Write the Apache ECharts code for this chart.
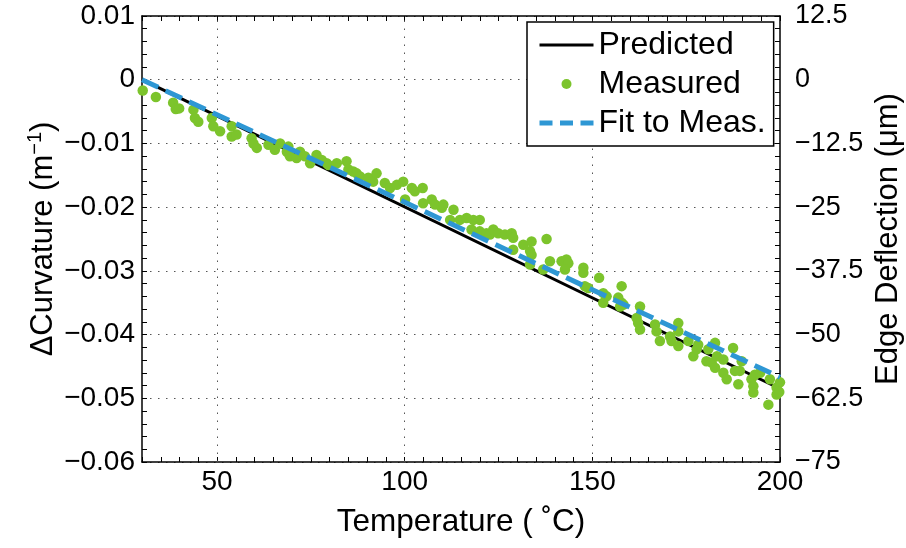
<!DOCTYPE html>
<html><head><meta charset="utf-8">
<script src="https://cdn.jsdelivr.net/npm/echarts@6/dist/echarts.min.js"></script>
<style>html,body{margin:0;padding:0;background:#fff}#c{width:906px;height:548px}</style>
</head><body><div id="c"></div>
<script>
// Temperature (°C) vs ΔCurvature (1/m)
var predicted = [[30, 0], [200, -0.0485]];
var fitToMeas = [[30, 0], [200, -0.0467]];
var measured = [
[30.2,-0.0017],[33.7,-0.0027],[38.3,-0.0036],[39.0,-0.0046],[39.9,-0.0045],[43.7,-0.0047],
[44.1,-0.0060],[45.0,-0.0066],[48.6,-0.0060],[49.0,-0.0073],[50.8,-0.0081],[53.9,-0.0073],
[53.9,-0.0089],[55.2,-0.0086],[59.2,-0.0092],[59.7,-0.0100],[60.6,-0.0107],[63.7,-0.0102],
[65.4,-0.0110],[66.8,-0.0100],[68.6,-0.0113],[69.0,-0.0105],[69.4,-0.0120],[71.2,-0.0123],
[72.1,-0.0113],[73.4,-0.0120],[74.8,-0.0131],[76.5,-0.0118],[77.9,-0.0126],[79.2,-0.0131],
[79.7,-0.0134],[81.9,-0.0131],[84.5,-0.0128],[85.0,-0.0141],[86.3,-0.0144],[87.2,-0.0147],
[88.1,-0.0152],[90.3,-0.0154],[91.6,-0.0160],[92.5,-0.0147],[94.7,-0.0162],[96.1,-0.0170],
[97.9,-0.0165],[99.6,-0.0160],[100.1,-0.0188],[101.9,-0.0170],[102.7,-0.0175],[104.8,-0.0170],
[104.9,-0.0194],[107.2,-0.0188],[108.1,-0.0196],[109.9,-0.0201],[110.3,-0.0196],[112.1,-0.0220],
[113.0,-0.0204],[114.7,-0.0220],[116.5,-0.0217],[117.8,-0.0235],[118.3,-0.0220],[120.0,-0.0220],
[120.0,-0.0238],[121.8,-0.0241],[122.7,-0.0243],[123.6,-0.0235],[124.9,-0.0241],[126.7,-0.0243],
[128.5,-0.0241],[128.9,-0.0248],[128.9,-0.0267],[131.6,-0.0259],[133.8,-0.0254],[133.4,-0.0269],
[133.8,-0.0275],[133.4,-0.0290],[136.9,-0.0298],[137.8,-0.0250],[138.7,-0.0285],[141.8,-0.0285],
[143.1,-0.0282],[143.6,-0.0288],[142.7,-0.0298],[147.6,-0.0295],[147.6,-0.0303],[148.0,-0.0324],
[148.9,-0.0327],[151.8,-0.0311],[152.9,-0.0335],[153.8,-0.0340],[152.9,-0.0350],[156.9,-0.0342],
[157.8,-0.0324],[157.8,-0.0350],[157.4,-0.0356],[158.3,-0.0353],[161.8,-0.0374],[162.2,-0.0382],
[162.7,-0.0392],[162.7,-0.0356],[166.7,-0.0384],[167.1,-0.0395],[168.0,-0.0410],[170.7,-0.0403],
[171.1,-0.0410],[172.9,-0.0382],[172.9,-0.0395],[172.9,-0.0418],[175.6,-0.0410],[176.9,-0.0434],
[177.8,-0.0423],[178.2,-0.0416],[180.4,-0.0442],[180.9,-0.0423],[181.8,-0.0444],[182.7,-0.0413],
[182.7,-0.0452],[183.2,-0.0434],[184.9,-0.0439],[184.9,-0.0460],[185.8,-0.0470],[187.5,-0.0421],
[188.0,-0.0457],[188.9,-0.0478],[189.3,-0.0457],[189.8,-0.0442],[192.4,-0.0470],[192.9,-0.0481],
[192.9,-0.0491],[193.3,-0.0463],[194.7,-0.0460],[196.9,-0.0510],[197.3,-0.0470],[199.1,-0.0483],
[199.1,-0.0494],[200.0,-0.0475],[199.8,-0.0490]
];
var xMajorGrid = [50, 100, 150];
var xTickLabels = [50, 100, 150, 200];

var FONT = '"Liberation Sans", Arial, sans-serif';
var minus = function (s) { return String(s).replace('-', '\u2212'); };
var chart = echarts.init(document.getElementById('c'), null, {renderer: 'canvas'});
var tickStyle = {show: true, inside: true, length: 5, lineStyle: {color: '#000', width: 1}};
var minorStyle = {show: true, splitNumber: 5, length: 5, lineStyle: {color: '#000', width: 1}};
chart.setOption({
  backgroundColor: '#fff',
  animation: false,
  textStyle: {fontFamily: FONT},
  grid: {left: 142, right: 126, top: 16, bottom: 86, containLabel: false, outerBoundsMode: 'none'},
  legend: {
    left: 527, top: 22, orient: 'vertical',
    backgroundColor: '#fff', borderColor: '#000', borderWidth: 1.5,
    padding: [7, 8, 7, 10], itemGap: 7, itemWidth: 54, itemHeight: 10,
    textStyle: {fontFamily: FONT, fontSize: 32, color: '#000', lineHeight: 32},
    data: [
      {name: 'Predicted', itemStyle: {opacity: 0}, lineStyle: {color: '#000', width: 3, type: 'solid'}},
      {name: 'Measured', icon: 'circle'},
      {name: 'Fit to Meas.', itemStyle: {opacity: 0}, lineStyle: {color: '#2e97d4', width: 5, type: [13, 7.5]}}
    ]
  },
  xAxis: [{
    type: 'value', min: 30, max: 200, interval: 5, position: 'bottom',
    name: 'Temperature ( \u02DAC)', nameLocation: 'middle', nameGap: 44, nameMoveOverlap: false,
    nameTextStyle: {fontFamily: FONT, fontSize: 31.5, color: '#000'},
    axisLine: {show: true, onZero: false, lineStyle: {color: '#000', width: 1.5}},
    axisTick: tickStyle,
    axisLabel: {color: '#000', fontFamily: FONT, fontSize: 28, margin: 6,
      formatter: function (v) { return xTickLabels.indexOf(v) >= 0 ? String(v) : ''; }},
    splitLine: {show: false}
  }, {
    type: 'value', min: 30, max: 200, interval: 5, position: 'top',
    axisLine: {show: true, onZero: false, lineStyle: {color: '#000', width: 1.5}},
    axisTick: tickStyle, axisLabel: {show: false}, splitLine: {show: false}
  }],
  yAxis: [{
    type: 'value', min: -0.06, max: 0.01, interval: 0.01, position: 'left',
    name: '\u0394Curvature (m{sup|\u22121})', nameLocation: 'middle', nameGap: 80, nameRotate: 90,
    nameMoveOverlap: false,
    nameTextStyle: {fontFamily: FONT, fontSize: 31, color: '#000',
      rich: {sup: {fontFamily: FONT, fontSize: 20, color: '#000', padding: [0, 0, 17, 0]}}},
    axisLine: {show: true, onZero: false, lineStyle: {color: '#000', width: 1.5}},
    axisTick: tickStyle, minorTick: minorStyle,
    axisLabel: {color: '#000', fontFamily: FONT, fontSize: 28, margin: 7,
      formatter: function (v) { return v === 0 ? '0' : minus(v.toFixed(2)); }},
    splitLine: {show: true, lineStyle: {color: '#555', width: 1, type: [1.5, 6.5]}}
  }, {
    type: 'value', min: -75, max: 12.5, interval: 12.5, position: 'right',
    name: 'Edge Deflection (\u03BCm)', nameLocation: 'middle', nameGap: 93, nameRotate: 90,
    nameMoveOverlap: false,
    nameTextStyle: {fontFamily: FONT, fontSize: 31, color: '#000'},
    axisLine: {show: true, onZero: false, lineStyle: {color: '#000', width: 1.5}},
    axisTick: tickStyle, minorTick: minorStyle,
    axisLabel: {color: '#000', fontFamily: FONT, fontSize: 27, margin: 15,
      formatter: function (v) { return minus(v); }},
    splitLine: {show: false}
  }],
  series: [{
    name: 'Predicted', type: 'line', data: predicted, xAxisIndex: 0, yAxisIndex: 0,
    symbol: 'none', z: 2,
    lineStyle: {color: '#000', width: 3}, itemStyle: {color: '#000'},
    markLine: {
      silent: true, symbol: 'none', label: {show: false}, z: 1,
      lineStyle: {color: '#555', width: 1, type: [1.5, 6.5]},
      data: xMajorGrid.map(function (v) { return {xAxis: v}; })
    }
  }, {
    name: 'Measured', type: 'scatter', data: measured, xAxisIndex: 0, yAxisIndex: 0,
    symbol: 'circle', symbolSize: 10.5, z: 3,
    itemStyle: {color: '#7cc42c', opacity: 1}
  }, {
    name: 'Fit to Meas.', type: 'line', data: fitToMeas, xAxisIndex: 0, yAxisIndex: 0,
    symbol: 'none', z: 4,
    lineStyle: {color: '#2e97d4', width: 5, type: [18, 8]}, itemStyle: {color: '#2e97d4'}
  }]
});
</script>
</body></html>
